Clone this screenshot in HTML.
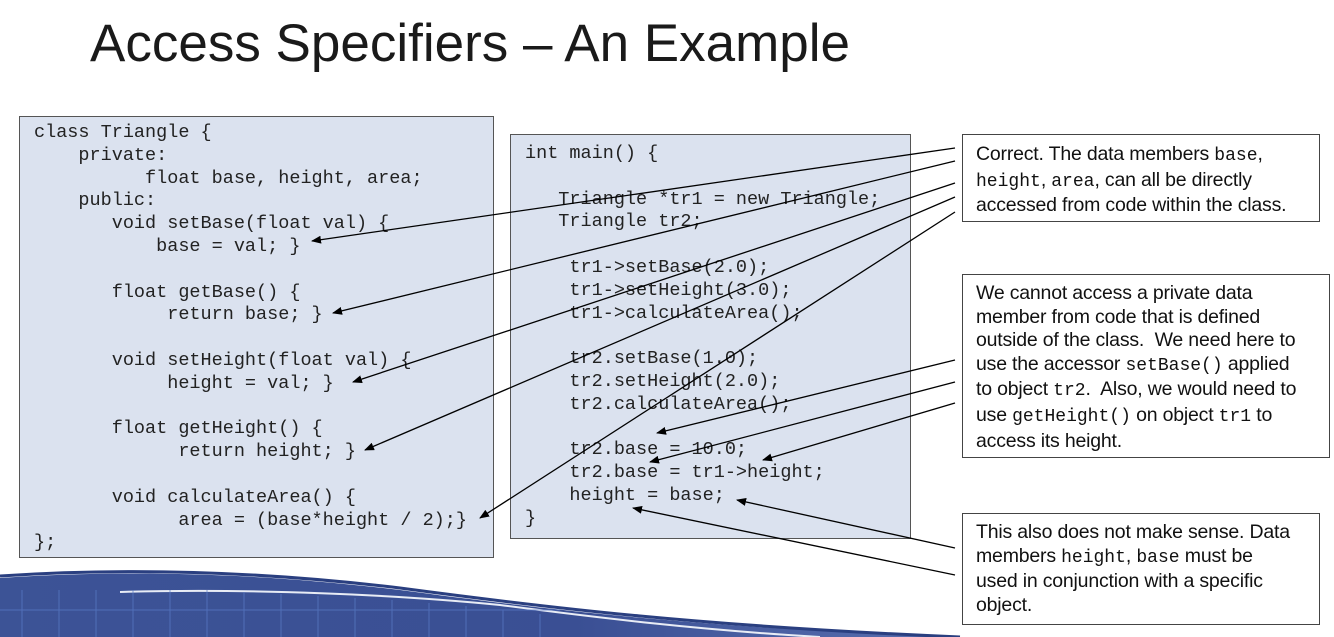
<!DOCTYPE html>
<html><head><meta charset="utf-8"><style>
*{margin:0;padding:0;box-sizing:border-box}
body{width:1334px;height:637px;overflow:hidden;background:#fff;position:relative;font-family:"Liberation Sans",sans-serif}
.t{position:absolute;left:90px;top:13px;font-size:53px;color:#1a1a1a;letter-spacing:0}
.code{position:absolute;background:#dbe2ef;border:1.5px solid #555;font-family:"Liberation Mono",monospace;font-size:18.5px;color:#222;white-space:pre;line-height:22.8px}
.box{position:absolute;border:1.5px solid #444;background:#fff;font-size:19.5px;line-height:23.6px;color:#111;padding:0 0 0 13px;white-space:nowrap;letter-spacing:-0.2px}
.box code{font-family:"Liberation Mono",monospace;font-size:18px;letter-spacing:0}
svg{position:absolute;left:0;top:0}
</style></head><body>
<svg width="1334" height="637">
<defs><linearGradient id="g" x1="0" y1="0" x2="1" y2="0"><stop offset="0" stop-color="#3c5396"/><stop offset="0.6" stop-color="#3a4f94"/><stop offset="1" stop-color="#5a70b0"/></linearGradient></defs>
<path d="M0,578 C120,570 250,572 400,590 C550,610 700,628 960,637 L0,637 Z" fill="url(#g)"/>
<path d="M0,576 C120,568 250,570 400,588 C550,608 700,626 960,637" fill="none" stroke="#2a3f80" stroke-width="3"/>
<path d="M120,592 C250,588 400,595 500,605 C600,618 700,630 820,637" fill="none" stroke="#e8ecf5" stroke-width="2"/>
<g stroke="#5a7cc8" stroke-width="1" opacity="0.7">
<line x1="0" y1="610" x2="560" y2="610"/>
<line x1="22" y1="590" x2="22" y2="637"/><line x1="59" y1="590" x2="59" y2="637"/><line x1="96" y1="590" x2="96" y2="637"/>
<line x1="133" y1="590" x2="133" y2="637"/><line x1="170" y1="590" x2="170" y2="637"/><line x1="207" y1="590" x2="207" y2="637"/>
<line x1="244" y1="592" x2="244" y2="637"/><line x1="281" y1="594" x2="281" y2="637"/><line x1="318" y1="596" x2="318" y2="637"/>
<line x1="355" y1="598" x2="355" y2="637"/><line x1="392" y1="600" x2="392" y2="637"/><line x1="429" y1="603" x2="429" y2="637"/>
<line x1="466" y1="606" x2="466" y2="637"/><line x1="503" y1="610" x2="503" y2="637"/><line x1="540" y1="614" x2="540" y2="637"/>
</g>
</svg>
<div class="t">Access Specifiers – An Example</div>
<div class="code" style="left:19px;top:116px;width:475px;height:442px;padding:5px 0 0 14px">class Triangle {
    private:
          float base, height, area;
    public:
       void setBase(float val) {
           base = val; }

       float getBase() {
            return base; }

       void setHeight(float val) {
            height = val; }

       float getHeight() {
             return height; }

       void calculateArea() {
             area = (base*height / 2);}
};</div>
<div class="code" style="left:510px;top:134px;width:401px;height:405px;padding:8px 0 0 14px">int main() {

   Triangle *tr1 = new Triangle;
   Triangle tr2;

    tr1->setBase(2.0);
    tr1->setHeight(3.0);
    tr1->calculateArea();

    tr2.setBase(1.0);
    tr2.setHeight(2.0);
    tr2.calculateArea();

    tr2.base = 10.0;
    tr2.base = tr1->height;
    height = base;
}</div>
<div class="box" style="left:962px;top:134px;width:358px;height:88px;padding-top:8px">Correct. The data members <code>base</code>,<br><code>height</code>, <code>area</code>, can all be directly<br>accessed from code within the class.</div>
<div class="box" style="left:962px;top:274px;width:368px;height:184px;padding-top:7px">We cannot access a private data<br>member from code that is defined<br>outside of the class.&nbsp; We need here to<br>use the accessor <code>setBase()</code> applied<br>to object <code>tr2</code>.&nbsp; Also, we would need to<br>use <code>getHeight()</code> on object <code>tr1</code> to<br>access its height.</div>
<div class="box" style="left:962px;top:513px;width:358px;height:112px;padding-top:7px">This also does not make sense. Data<br>members <code>height</code>, <code>base</code> must be<br>used in conjunction with a specific<br>object.</div>
<svg width="1334" height="637">
<defs><marker id="a" markerWidth="10" markerHeight="8" refX="9" refY="4" orient="auto" markerUnits="userSpaceOnUse"><path d="M0,0 L10,4 L0,8 Z" fill="#000"/></marker></defs>
<g stroke="#000" stroke-width="1.3" fill="none" marker-end="url(#a)">
<line x1="955" y1="148" x2="312" y2="241"/>
<line x1="955" y1="161" x2="333" y2="313"/>
<line x1="955" y1="183" x2="353" y2="382"/>
<line x1="955" y1="197" x2="365" y2="450"/>
<line x1="955" y1="212" x2="480" y2="518"/>
<line x1="955" y1="360" x2="657" y2="433"/>
<line x1="955" y1="382" x2="650" y2="462"/>
<line x1="955" y1="403" x2="763" y2="460"/>
<line x1="955" y1="548" x2="737" y2="500"/>
<line x1="955" y1="575" x2="633" y2="508"/>
</g>
</svg>
</body></html>
